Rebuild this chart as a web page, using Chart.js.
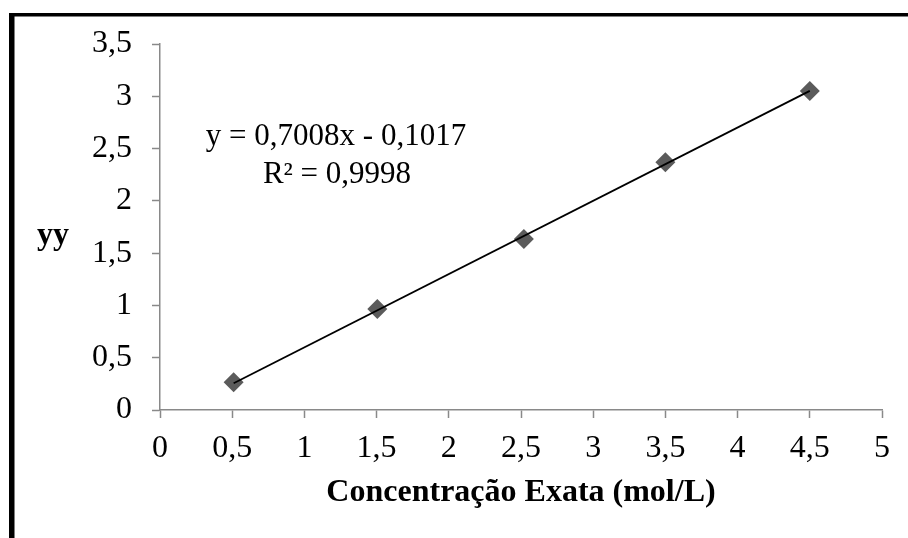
<!DOCTYPE html>
<html>
<head>
<meta charset="utf-8">
<script src="https://cdn.jsdelivr.net/npm/chart.js@4/dist/chart.umd.min.js"></script>
<style>
  html, body { margin: 0; padding: 0; background: #ffffff; }
  canvas { display: block; }
</style>
</head>
<body>
<canvas id="c" width="908" height="538"></canvas>
<script>
// Measured calibration points
const concentracao = [0.51, 1.505, 2.52, 3.5, 4.5];
const yyValores = [0.265, 0.965, 1.635, 2.37, 3.05];

// Linear trendline coefficients (as printed on the chart)
const inclinacao = 0.7008;
const intercepto = -0.1017;
const r2 = 0.9998;

// Axis ranges
const xTicks = [0, 0.5, 1, 1.5, 2, 2.5, 3, 3.5, 4, 4.5, 5];
const yTicks = [0, 0.5, 1, 1.5, 2, 2.5, 3, 3.5];

const pontos = concentracao.map((x, i) => ({ x: x, y: yyValores[i] }));
const xMin = Math.min(...concentracao);
const xMax = Math.max(...concentracao);
const tendencia = [
  { x: xMin, y: inclinacao * xMin + intercepto },
  { x: xMax, y: inclinacao * xMax + intercepto }
];

const fmt = v => String(v).replace('.', ',');
const fmt4 = v => v.toFixed(4).replace('.', ',');

const SERIF = '"Liberation Serif", "Times New Roman", serif';
const AXIS_GRAY = '#898989';

// Frame, horizontal y title and trendline equation
const decor = {
  id: 'decor',
  beforeDraw(chart) {
    const ctx = chart.ctx;
    ctx.save();
    ctx.fillStyle = '#ffffff';
    ctx.fillRect(0, 0, chart.width, chart.height);
    ctx.restore();
  },
  afterDraw(chart) {
    const ctx = chart.ctx;
    ctx.save();
    ctx.fillStyle = '#000000';
    ctx.fillRect(9, 13, chart.width - 9, 3.5);
    ctx.fillRect(9, 13, 5.5, chart.height - 13);

    ctx.fillStyle = '#000000';
    ctx.textBaseline = 'alphabetic';
    ctx.textAlign = 'center';
    ctx.font = 'bold 32px ' + SERIF;
    ctx.fillText('yy', 53, 244);

    ctx.font = '31px ' + SERIF;
    const sinal = intercepto < 0 ? ' - ' : ' + ';
    ctx.fillText('y = ' + fmt4(inclinacao) + 'x' + sinal + fmt4(Math.abs(intercepto)), 336, 145);
    ctx.fillText('R² = ' + fmt4(r2), 337, 183);
    ctx.restore();
  }
};

new Chart(document.getElementById('c'), {
  type: 'scatter',
  data: {
    datasets: [
      {
        type: 'line',
        label: 'Linear',
        data: tendencia,
        borderColor: '#000000',
        borderWidth: 1.8,
        pointRadius: 0,
        fill: false,
        tension: 0
      },
      {
        label: 'yy',
        data: pontos,
        pointStyle: 'rectRot',
        pointRadius: 10,
        pointBackgroundColor: '#5b5b5b',
        pointBorderColor: '#5b5b5b',
        pointBorderWidth: 0,
        showLine: false
      }
    ]
  },
  options: {
    responsive: false,
    animation: false,
    layout: { padding: { top: 44, right: 26, left: 0, bottom: 0 } },
    plugins: {
      legend: { display: false },
      tooltip: { enabled: false },
      title: { display: false }
    },
    scales: {
      x: {
        type: 'linear',
        min: xTicks[0],
        max: xTicks[xTicks.length - 1],
        afterBuildTicks: s => { s.ticks = xTicks.map(v => ({ value: v })); },
        afterFit: s => { s.height = 128; },
        grid: { drawOnChartArea: false, drawTicks: true, tickLength: 8, tickColor: AXIS_GRAY, tickWidth: 1.5 },
        border: { display: true, color: AXIS_GRAY, width: 1.5 },
        ticks: {
          color: '#000000',
          font: { family: SERIF, size: 32 },
          padding: 11,
          maxRotation: 0,
          autoSkip: false,
          callback: v => fmt(v)
        },
        title: {
          display: true,
          text: 'Concentração Exata (mol/L)',
          color: '#000000',
          font: { family: SERIF, size: 32, weight: 'bold' },
          padding: { top: 0, bottom: 26 }
        }
      },
      y: {
        type: 'linear',
        min: yTicks[0],
        max: yTicks[yTicks.length - 1],
        afterBuildTicks: s => { s.ticks = yTicks.map(v => ({ value: v })); },
        afterFit: s => { s.width = 160; },
        grid: { drawOnChartArea: false, drawTicks: true, tickLength: 8, tickColor: AXIS_GRAY, tickWidth: 1.5 },
        border: { display: true, color: AXIS_GRAY, width: 1.5 },
        ticks: {
          color: '#000000',
          font: { family: SERIF, size: 32 },
          padding: 20,
          autoSkip: false,
          callback: v => fmt(v)
        }
      }
    }
  },
  plugins: [decor]
});
</script>
</body>
</html>
